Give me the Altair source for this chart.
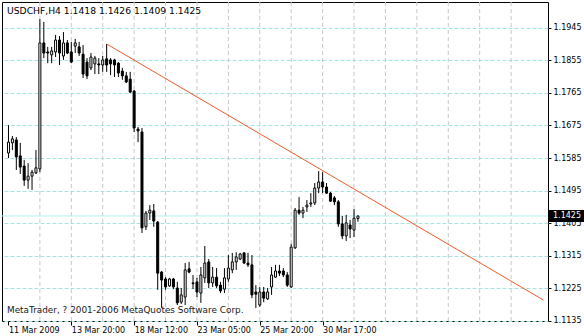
import altair as alt
import pandas as pd

# ---- data (USDCHF, H4) ----
opens = [1.1599, 1.1627, 1.1635, 1.1591, 1.1563, 1.1524, 1.1535, 1.1544, 1.1555, 1.1903,
         1.1878, 1.1870, 1.1878, 1.1911, 1.1867, 1.1903, 1.1878, 1.1894, 1.1892, 1.1872,
         1.1850, 1.1834, 1.1845, 1.1845, 1.1842, 1.1859, 1.1856, 1.1856, 1.1847, 1.1825,
         1.1812, 1.1803, 1.1770, 1.1665, 1.1657, 1.1395, 1.1433, 1.1439, 1.1408, 1.1270,
         1.1251, 1.1232, 1.1251, 1.1226, 1.1187, 1.1201, 1.1279, 1.1240, 1.1243, 1.1212,
         1.1254, 1.1298, 1.1240, 1.1256, 1.1234, 1.1223, 1.1251, 1.1276, 1.1298, 1.1306,
         1.1323, 1.1295, 1.1290, 1.1215, 1.1179, 1.1215, 1.1196, 1.1229, 1.1256, 1.1273,
         1.1273, 1.1262, 1.1229, 1.1337, 1.1441, 1.1433, 1.1450, 1.1458, 1.1461, 1.1502,
         1.1519, 1.1505, 1.1488, 1.1475, 1.1464, 1.1403, 1.1370, 1.1400, 1.1386, 1.1418]
highs = [1.1676, 1.1646, 1.1643, 1.1627, 1.1580, 1.1571, 1.1552, 1.1607, 1.1969, 1.1961,
         1.1892, 1.1892, 1.1925, 1.1922, 1.1933, 1.1911, 1.1906, 1.1914, 1.1906, 1.1897,
         1.1861, 1.1875, 1.1867, 1.1861, 1.1867, 1.1900, 1.1861, 1.1859, 1.1850, 1.1834,
         1.1823, 1.1823, 1.1773, 1.1671, 1.1668, 1.1439, 1.1455, 1.1458, 1.1411, 1.1273,
         1.1256, 1.1254, 1.1254, 1.1243, 1.1226, 1.1295, 1.1298, 1.1262, 1.1254, 1.1284,
         1.1342, 1.1306, 1.1284, 1.1281, 1.1243, 1.1281, 1.1317, 1.1323, 1.1325, 1.1323,
         1.1325, 1.1323, 1.1317, 1.1234, 1.1229, 1.1229, 1.1226, 1.1284, 1.1290, 1.1290,
         1.1281, 1.1270, 1.1348, 1.1447, 1.1477, 1.1450, 1.1469, 1.1488, 1.1516, 1.1549,
         1.1546, 1.1516, 1.1491, 1.1480, 1.1469, 1.1425, 1.1428, 1.1414, 1.1444, 1.1426]
lows = [1.1585, 1.1607, 1.1552, 1.1541, 1.1508, 1.1500, 1.1497, 1.1541, 1.1546, 1.1861,
        1.1847, 1.1847, 1.1864, 1.1842, 1.1856, 1.1872, 1.1847, 1.1875, 1.1867, 1.1806,
        1.1803, 1.1828, 1.1817, 1.1817, 1.1823, 1.1823, 1.1814, 1.1809, 1.1809, 1.1801,
        1.1792, 1.1765, 1.1657, 1.1629, 1.1378, 1.1386, 1.1414, 1.1395, 1.1221, 1.1171,
        1.1221, 1.1229, 1.1223, 1.1179, 1.1182, 1.1179, 1.1267, 1.1223, 1.1201, 1.1185,
        1.1240, 1.1226, 1.1229, 1.1226, 1.1212, 1.1212, 1.1243, 1.1267, 1.1276, 1.1303,
        1.1292, 1.1284, 1.1198, 1.1171, 1.1174, 1.1187, 1.1193, 1.1207, 1.1254, 1.1259,
        1.1256, 1.1229, 1.1226, 1.1334, 1.1428, 1.1419, 1.1436, 1.1450, 1.1455, 1.1488,
        1.1488, 1.1486, 1.1464, 1.1455, 1.1395, 1.1361, 1.1356, 1.1364, 1.1367, 1.1409]
closes = [1.1629, 1.1638, 1.1588, 1.1560, 1.1524, 1.1535, 1.1546, 1.1558, 1.1903, 1.1875,
          1.1875, 1.1881, 1.1911, 1.1875, 1.1903, 1.1875, 1.1850, 1.1903, 1.1875, 1.1817,
          1.1812, 1.1864, 1.1861, 1.1842, 1.1856, 1.1842, 1.1845, 1.1842, 1.1820, 1.1812,
          1.1795, 1.1767, 1.1668, 1.1660, 1.1392, 1.1433, 1.1441, 1.1411, 1.1267, 1.1248,
          1.1229, 1.1251, 1.1229, 1.1185, 1.1207, 1.1276, 1.1270, 1.1238, 1.1215, 1.1262,
          1.1295, 1.1240, 1.1256, 1.1232, 1.1218, 1.1254, 1.1281, 1.1298, 1.1312, 1.1320,
          1.1295, 1.1290, 1.1207, 1.1209, 1.1215, 1.1198, 1.1215, 1.1262, 1.1273, 1.1267,
          1.1262, 1.1234, 1.1339, 1.1441, 1.1433, 1.1441, 1.1455, 1.1461, 1.1502, 1.1519,
          1.1505, 1.1488, 1.1466, 1.1464, 1.1403, 1.1370, 1.1406, 1.1389, 1.1419, 1.1425]

x_tick_bars = [0, 16, 32, 48, 64, 80]
x_tick_labels = ["11 Mar 2009", "13 Mar 20:00", "18 Mar 12:00",
                 "23 Mar 05:00", "25 Mar 20:00", "30 Mar 17:00"]
grid_bars = [8, 16, 24, 32, 40, 48, 56, 64, 72, 80, 88, 96, 104, 112, 120, 128]
y_ticks = [1.1135, 1.1225, 1.1315, 1.1405, 1.1495, 1.1585, 1.1675, 1.1765, 1.1855, 1.1945]
trend_bars = [25, 136.2]
trend_prices = [1.1900, 1.1193]
bid_price = 1.1425
header_text = "USDCHF,H4  1.1418 1.1426 1.1409 1.1425"
copyright_text = "MetaTrader, ? 2001-2006 MetaQuotes Software Corp."

FONT = "DejaVu Sans"

df = pd.DataFrame({
    "bar": list(range(len(opens))),
    "open": opens, "high": highs, "low": lows, "close": closes,
})
df["dir"] = ["up" if c >= o else "down" for o, c in zip(opens, closes)]

xscale = alt.Scale(domain=[-0.375, 136.125], nice=False, zero=False)
yscale = alt.Scale(domain=[1.11349, 1.20160], nice=False, zero=False)

label_expr = "{}[indexof({}, datum.value)]".format(
    "[" + ",".join("'%s'" % s for s in x_tick_labels) + "]",
    "[" + ",".join(str(v) for v in x_tick_bars) + "]",
)

xaxis = alt.Axis(values=x_tick_bars, labelExpr=label_expr, grid=False, domain=False,
                 ticks=True, tickSize=4, tickColor="black", labelAlign="left",
                 labelBaseline="top", labelPadding=1, labelFont=FONT, labelFontSize=8,
                 labelColor="black", labelOverlap=False, labelFlush=False, labelBound=False,
                 title=None)
yaxis = alt.Axis(orient="right", values=y_ticks, format=".4f", grid=True,
                 gridColor="#a8e2e2", gridDash=[4, 2], gridWidth=1, domain=False,
                 ticks=True, tickSize=3, tickColor="black", labelPadding=2,
                 labelFont=FONT, labelFontSize=8, labelColor="black",
                 labelOverlap=False, labelFlush=False, labelBound=False, title=None)


def X(field):
    return alt.X(field, scale=xscale, axis=xaxis, title=None)


def Y(field):
    return alt.Y(field, scale=yscale, axis=yaxis, title=None)


vgrid = alt.Chart(pd.DataFrame({"bar": grid_bars})).mark_rule(
    color="#c8c8c8", strokeDash=[4, 3], strokeWidth=1
).encode(x=X("bar:Q"))

bidline = alt.Chart(pd.DataFrame({"p": [bid_price]})).mark_rule(
    color="#b8eeee", strokeWidth=1
).encode(y=Y("p:Q"))

wicks = alt.Chart(df).mark_rule(color="black", strokeWidth=1).encode(
    x=X("bar:Q"), y=Y("low:Q"), y2="high:Q",
)

bodies = alt.Chart(df).mark_bar(size=2, stroke="black", strokeWidth=1).encode(
    x=X("bar:Q"), y=Y("open:Q"), y2="close:Q",
    fill=alt.Fill("dir:N", scale=alt.Scale(domain=["up", "down"], range=["white", "black"]),
                  legend=None),
)

trend = alt.Chart(pd.DataFrame({"bar": trend_bars, "p": trend_prices})).mark_line(
    color="#f05a28", strokeWidth=1, clip=True
).encode(x=X("bar:Q"), y=Y("p:Q"))

bid_df = pd.DataFrame({"p": [bid_price], "t": ["%.4f" % bid_price]})
bid_box = alt.Chart(bid_df).mark_rect(color="black", yOffset=-6, y2Offset=6).encode(
    x=alt.value(547), x2=alt.value(584),
    y=Y("p:Q"), y2="p:Q",
)
bid_text = alt.Chart(bid_df).mark_text(
    align="left", baseline="middle", color="white", font=FONT, fontSize=8
).encode(x=alt.value(551), y=Y("p:Q"), text="t:N")

header = alt.Chart(pd.DataFrame({"t": [header_text]})).mark_text(
    align="left", baseline="middle", color="black", font=FONT, fontSize=9.2
).encode(x=alt.value(5), y=alt.value(8.5), text="t:N")

copyright_mark = alt.Chart(pd.DataFrame({"t": [copyright_text]})).mark_text(
    align="left", baseline="middle", color="#202020", font=FONT, fontSize=8.9
).encode(x=alt.value(5), y=alt.value(308), text="t:N")

chart = alt.layer(
    vgrid, bidline, wicks, bodies, trend, bid_box, bid_text, header, copyright_mark
).properties(
    width=546, height=319,
    autosize=alt.AutoSizeParams(type="none"),
    padding={"left": 2, "top": 2, "right": 36, "bottom": 15},
    background="white",
).configure_view(stroke="black", strokeWidth=1)

chart.save("out.html", embed_options={"renderer": "svg", "actions": False})
